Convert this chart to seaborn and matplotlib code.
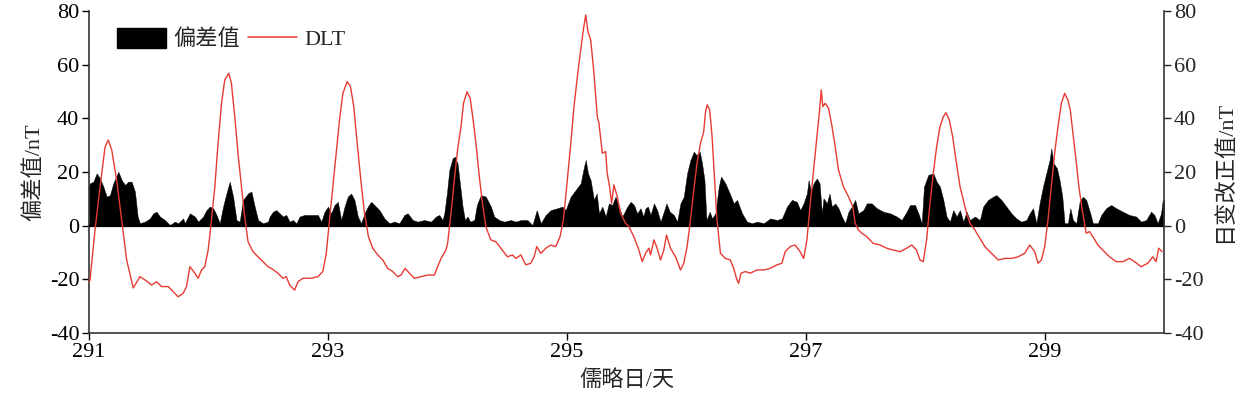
import matplotlib
matplotlib.use("Agg")
import matplotlib.pyplot as plt
import seaborn as sns
import pandas as pd
from matplotlib.patches import Patch
from matplotlib.lines import Line2D

# ---------------- data ----------------
dlt_day = [291.000, 291.008, 291.050, 291.092, 291.134, 291.161, 291.190, 291.231, 291.273, 291.315,
           291.370, 291.426, 291.468, 291.524, 291.566, 291.607, 291.663, 291.704, 291.746, 291.788,
           291.816, 291.844, 291.886, 291.913, 291.942, 291.969, 291.997, 292.019, 292.053, 292.080,
           292.109, 292.136, 292.170, 292.192, 292.220, 292.247, 292.276, 292.303, 292.331, 292.373,
           292.414, 292.456, 292.498,
           292.526, 292.581, 292.623, 292.651, 292.679, 292.721, 292.749, 292.790, 292.860, 292.916,
           292.957, 292.986, 293.013, 293.041, 293.069, 293.097, 293.125, 293.161, 293.189, 293.216,
           293.245, 293.278, 293.306, 293.339, 293.375, 293.417, 293.459, 293.500, 293.542, 293.584,
           293.612, 293.646, 293.682, 293.723, 293.779, 293.835, 293.891, 293.918, 293.947, 293.988,
           294.002, 294.030, 294.058, 294.085, 294.114, 294.135, 294.164, 294.191, 294.219, 294.239,
           294.267, 294.294, 294.322, 294.364, 294.406, 294.448, 294.503, 294.545, 294.573, 294.615,
           294.656, 294.698, 294.726, 294.748, 294.782, 294.824, 294.865, 294.907, 294.943, 294.971,
           295.004, 295.033, 295.060, 295.088, 295.116, 295.138, 295.158, 295.177, 295.200, 295.227,
           295.255, 295.269, 295.297, 295.325, 295.338, 295.358, 295.375, 295.394, 295.422, 295.450,
           295.492,
           295.520, 295.561, 295.603, 295.631, 295.659, 295.687, 295.701, 295.729, 295.756, 295.784,
           295.812, 295.834, 295.868, 295.910, 295.952, 295.979, 296.007, 296.035, 296.063, 296.090,
           296.119, 296.146, 296.160, 296.174, 296.196, 296.216, 296.236, 296.257, 296.286, 296.327,
           296.369, 296.397, 296.424, 296.438, 296.458, 296.494, 296.536, 296.591, 296.647, 296.703,
           296.758, 296.800, 296.828, 296.870, 296.911, 296.953, 296.983,
           297.010, 297.038, 297.066, 297.093, 297.116, 297.130, 297.143, 297.163, 297.191, 297.218,
           297.247, 297.274, 297.316, 297.358, 297.394, 297.414, 297.441, 297.469, 297.511, 297.566,
           297.622, 297.678, 297.734, 297.790, 297.845, 297.887, 297.928, 297.957, 297.984, 298.012,
           298.040, 298.068, 298.096, 298.124, 298.152, 298.174, 298.202, 298.230, 298.258, 298.292,
           298.319, 298.347, 298.375, 298.416, 298.458, 298.500,
           298.527, 298.569, 298.611, 298.667, 298.722, 298.778, 298.834, 298.875, 298.917, 298.945,
           298.973, 299.001, 299.028, 299.056, 299.084, 299.112, 299.140, 299.168, 299.195, 299.215,
           299.237, 299.260, 299.287, 299.315, 299.348, 299.376, 299.404, 299.446, 299.487, 299.543,
           299.599, 299.655, 299.710, 299.752, 299.808, 299.864, 299.905, 299.933, 299.955, 299.983]
dlt_val = [-21.0, -20.3, -1.6, 14.4, 29.3, 31.9, 28.2, 17.0, 2.1, -12.8,
           -23.2, -19.0, -20.2, -22.1, -20.9, -22.7, -22.7, -24.6, -26.5, -25.2,
           -22.7, -15.3, -17.7, -19.6, -16.5, -15.3, -9.1, -0.4, 14.5, 30.7,
           45.6, 54.3, 56.8, 53.0, 40.6, 27.0, 14.5, 3.4, -6.0, -9.7,
           -11.6, -13.4, -15.3,
           -15.9, -17.7, -19.6, -19.0, -22.1, -24.0, -20.9, -19.6, -19.6, -19.0,
           -17.1, -10.3, 2.1, 14.5, 27.0, 39.4, 49.3, 53.7, 51.8, 44.4,
           30.7, 15.8, 4.6, -4.1, -8.4, -10.9, -12.8, -15.9, -17.1, -19.0,
           -18.4, -15.9, -17.7, -19.6, -19.0, -18.4, -18.4, -15.3, -12.2, -9.1,
           -6.6, 4.6, 17.0, 28.2, 36.9, 45.6, 49.9, 47.5, 38.2, 30.7,
           18.3, 8.3, -0.4, -5.3, -6.0, -8.4, -11.6, -10.9, -12.2, -10.9,
           -14.6, -14.0, -11.6, -7.8, -10.3, -8.4, -7.2, -7.8, -4.1, 2.1,
           17.0, 30.7, 44.4, 55.5, 65.5, 72.9, 78.5, 72.3, 69.2, 56.8,
           40.6, 38.2, 27.0, 27.6, 19.5, 14.5, 8.3, 15.2, 10.8, 4.6,
           0.9,
           -0.4, -4.1, -9.1, -13.4, -10.3, -8.4, -10.9, -5.3, -8.4, -12.8,
           -9.1, -3.5, -8.4, -11.6, -16.5, -14.0, -7.8, 2.1, 13.3, 23.3,
           30.7, 35.0, 41.9, 45.0, 43.1, 33.2, 18.3, 2.1, -10.3, -12.2,
           -12.8, -15.9, -20.2, -21.5, -17.7, -17.1, -17.7, -16.5, -16.5, -15.9,
           -14.6, -14.0, -9.7, -7.8, -7.2, -9.7, -12.2,
           -5.3, 8.3, 20.8, 33.2, 43.1, 50.6, 44.4, 45.6, 43.8, 37.5,
           29.4, 20.8, 14.5, 10.8, 7.1, 0.9, -1.6, -2.8, -4.1, -6.6,
           -7.2, -8.4, -9.1, -9.7, -8.4, -7.2, -9.1, -12.8, -13.4, -5.3,
           8.3, 19.5, 29.4, 36.9, 40.6, 42.1, 39.4, 33.2, 24.5, 14.5,
           9.6, 4.6, 0.9, -1.6, -4.7, -7.8,
           -9.1, -10.9, -12.8, -12.2, -12.2, -11.6, -10.3, -7.2, -9.7, -14.0,
           -12.8, -7.8, 2.1, 14.5, 27.0, 36.9, 45.6, 49.3, 46.8, 43.1,
           34.4, 25.7, 14.5, 5.9, -2.8, -2.2, -4.1, -7.2, -9.1, -11.6,
           -13.4, -13.4, -12.2, -13.4, -15.3, -14.0, -11.6, -13.4, -8.4, -9.7]

dev_day = [291.000, 291.008, 291.036, 291.064, 291.092, 291.120, 291.148, 291.175, 291.203, 291.245,
           291.273, 291.301, 291.329, 291.356, 291.384, 291.407, 291.426, 291.468, 291.510, 291.537,
           291.565, 291.593, 291.635, 291.677, 291.718, 291.746, 291.788, 291.802, 291.844, 291.886,
           291.913, 291.955, 291.983, 292.011, 292.039, 292.067, 292.094, 292.122, 292.150, 292.178,
           292.206, 292.234, 292.261, 292.289, 292.331, 292.359, 292.387, 292.415, 292.456,
           292.498, 292.512, 292.540, 292.568, 292.596, 292.624, 292.651, 292.679, 292.707, 292.735,
           292.763, 292.804, 292.860, 292.916, 292.944, 292.972, 293.000, 293.027, 293.055, 293.083,
           293.111, 293.139, 293.166, 293.194, 293.222, 293.250, 293.278, 293.306, 293.334, 293.361,
           293.389, 293.431, 293.473, 293.515, 293.556, 293.598, 293.640, 293.668, 293.710, 293.751,
           293.807, 293.863, 293.904, 293.932, 293.960,
           293.974, 293.996, 294.016, 294.044, 294.063, 294.085, 294.108, 294.127, 294.147, 294.169,
           294.191, 294.225, 294.247, 294.280, 294.322, 294.364, 294.392, 294.434, 294.475, 294.531,
           294.573, 294.615, 294.670, 294.712, 294.748, 294.782, 294.823, 294.865, 294.921, 294.963,
           294.990, 295.032, 295.074, 295.116, 295.144, 295.158, 295.177, 295.199, 295.227, 295.250,
           295.269, 295.297, 295.325, 295.352, 295.380, 295.408, 295.436, 295.464,
           295.478, 295.506, 295.534, 295.562, 295.589, 295.617, 295.640, 295.659, 295.679, 295.701,
           295.729, 295.756, 295.784, 295.812, 295.834, 295.862, 295.896, 295.924, 295.951, 295.979,
           296.007, 296.035, 296.063, 296.085, 296.113, 296.132, 296.152, 296.169, 296.196, 296.216,
           296.244, 296.272, 296.291, 296.327, 296.364, 296.397, 296.425, 296.467, 296.508, 296.550,
           296.592, 296.648, 296.703, 296.759, 296.801, 296.843, 296.884, 296.926, 296.954,
           296.982, 297.010, 297.024, 297.043, 297.066, 297.093, 297.116, 297.135, 297.149, 297.177,
           297.199, 297.219, 297.247, 297.274, 297.302, 297.330, 297.358, 297.386, 297.414, 297.441,
           297.483, 297.511, 297.553, 297.595, 297.650, 297.706, 297.762, 297.803, 297.845, 297.873,
           297.915, 297.943, 297.971, 297.990, 298.026, 298.068, 298.096, 298.124, 298.152, 298.179,
           298.207, 298.235, 298.263, 298.291, 298.319, 298.347, 298.374, 298.416, 298.458,
           298.485, 298.527, 298.569, 298.596, 298.638, 298.680, 298.722, 298.763, 298.805, 298.847,
           298.875, 298.903, 298.931, 298.958, 298.986, 299.014, 299.042, 299.056, 299.075, 299.103,
           299.125, 299.148, 299.167, 299.195, 299.215, 299.237, 299.265, 299.293, 299.320, 299.348,
           299.382, 299.404, 299.446, 299.474, 299.515, 299.557, 299.599, 299.655, 299.710, 299.766,
           299.808, 299.850, 299.891, 299.919, 299.947, 299.975, 299.989, 300.000]
dev_val = [15.0, 15.8, 16.4, 19.5, 17.6, 14.5, 10.8, 11.4, 15.8, 20.1,
           17.0, 15.2, 16.4, 16.4, 12.7, 3.4, 0.9, 1.5, 2.7, 4.6,
           5.2, 3.4, 2.1, 0.2, 1.5, 0.9, 2.7, 0.9, 4.6, 3.4,
           1.5, 3.4, 5.8, 7.1, 6.5, 4.0, 0.9, 7.1, 12.0, 16.4,
           10.8, 2.1, 1.5, 9.6, 12.0, 12.7, 7.1, 2.1, 0.9,
           1.5, 3.4, 5.2, 5.8, 4.6, 3.4, 4.0, 1.5, 2.1, 0.9,
           3.4, 4.0, 4.0, 4.0, 1.5, 5.2, 7.1, 4.6, 7.7, 8.9,
           2.1, 7.1, 10.8, 12.0, 9.6, 3.4, 0.9, 4.6, 7.1, 8.9,
           7.7, 5.8, 2.7, 0.9, 1.5, 0.9, 4.0, 4.6, 2.1, 1.5,
           2.1, 1.5, 3.4, 4.0, 2.1,
           4.6, 12.0, 20.7, 25.1, 25.7, 23.2, 14.5, 7.1, 2.1, 3.4,
           1.5, 2.1, 7.7, 11.4, 10.8, 7.1, 3.4, 2.1, 1.5, 2.1,
           1.5, 2.1, 2.1, 0.2, 5.8, 0.9, 4.0, 5.8, 6.5, 7.1,
           5.8, 10.8, 13.3, 15.8, 22.0, 24.5, 19.5, 17.0, 9.6, 12.0,
           4.6, 7.1, 3.4, 8.3, 7.7, 10.8, 7.1, 3.4,
           4.6, 7.1, 8.9, 7.7, 4.6, 6.5, 3.4, 6.5, 7.1, 4.0,
           8.3, 5.8, 1.5, 5.2, 8.3, 5.2, 4.0, 1.5, 8.3, 10.8,
           19.5, 24.5, 27.6, 26.3, 27.6, 23.2, 17.0, 2.1, 5.2, 2.7,
           4.6, 14.5, 18.3, 15.8, 12.0, 8.3, 9.6, 4.6, 1.5, 0.9,
           1.5, 0.9, 2.7, 2.1, 2.7, 7.1, 9.6, 8.9, 5.8,
           8.3, 12.0, 17.0, 12.7, 15.8, 17.6, 15.8, 4.6, 10.2, 8.3,
           12.0, 7.1, 8.3, 6.5, 3.4, 0.9, 5.2, 7.1, 9.6, 4.6,
           5.8, 8.3, 8.3, 6.5, 5.2, 4.6, 3.4, 2.1, 5.2, 7.7,
           7.7, 4.6, 0.9, 14.5, 18.9, 19.5, 16.4, 14.5, 9.6, 3.4,
           1.5, 5.8, 3.4, 5.8, 1.5, 5.2, 2.1, 3.4, 2.1,
           7.1, 9.6, 10.8, 11.4, 9.6, 7.1, 4.6, 2.7, 1.5, 2.1,
           4.6, 6.5, 0.9, 8.3, 14.5, 19.5, 24.5, 28.8, 23.2, 21.4,
           17.0, 10.8, 0.9, 0.9, 6.5, 2.1, 0.9, 8.9, 10.8, 9.6,
           4.6, 0.9, 0.9, 4.0, 6.5, 7.7, 6.5, 5.2, 4.0, 3.4,
           1.5, 2.1, 5.2, 4.0, 0.9, 4.6, 9.6, 9.6]

x_ticks = [291, 293, 295, 297, 299]
y_ticks = [-40, -20, 0, 20, 40, 60, 80]
left_label = "偏差值/nT"
right_label = "日变改正值/nT"
x_label = "儒略日/天"
legend_labels = ["偏差值", "DLT"]

# ---------------- style ----------------
sns.set_style("ticks")
plt.rcParams["font.family"] = ["Liberation Serif", "Noto Sans CJK SC"]
plt.rcParams["axes.unicode_minus"] = False

red = "#e63b33"
fs = 16

fig = plt.figure(figsize=(12.56, 3.98), dpi=100)
ax = fig.add_axes([0.0709, 0.1633, 0.8559, 0.8091])

df_dev = pd.DataFrame({"day": dev_day, "val": dev_val})
df_dlt = pd.DataFrame({"day": dlt_day, "val": dlt_val})

ax.fill_between(df_dev["day"], 0, df_dev["val"], color="black", lw=0.3, zorder=2)
ax.axhline(0, color="black", lw=1.6, zorder=3)
sns.lineplot(data=df_dlt, x="day", y="val", ax=ax, color=red, lw=1.0, zorder=4,
             estimator=None, sort=False)

ax.set_xlim(291, 300)
ax.set_ylim(-40, 80)
ax.set_xticks(x_ticks)
ax.set_yticks(y_ticks)
ax.set_xlabel(x_label, fontsize=fs, labelpad=6)
ax.set_ylabel(left_label, fontsize=fs, labelpad=4)
ax.tick_params(axis="both", labelsize=fs, direction="out", length=5, width=1, colors="black",
               pad=2)
for s in ["left", "bottom"]:
    ax.spines[s].set_color("#333333")
    ax.spines[s].set_linewidth(1.2)
ax.spines["top"].set_visible(False)
ax.spines["right"].set_visible(False)

ax2 = ax.twinx()
ax2.set_ylim(-40, 80)
ax2.set_yticks(y_ticks)
ax2.set_ylabel(right_label, fontsize=fs, labelpad=8)
ax2.tick_params(axis="y", labelsize=fs, direction="out", length=5, width=1, pad=2)
ax2.spines["top"].set_visible(False)
ax2.spines["left"].set_visible(False)
ax2.spines["bottom"].set_visible(False)
ax2.spines["right"].set_color("#333333")
ax2.spines["right"].set_linewidth(1.2)

handles = [Patch(facecolor="black", edgecolor="black"),
           Line2D([], [], color=red, lw=1.1)]
ax.legend(handles, legend_labels, loc="upper left", bbox_to_anchor=(0.026, 0.948),
          ncol=2, frameon=False, fontsize=fs, handlelength=2.2, handleheight=1.0,
          handletextpad=0.35, columnspacing=0.35, borderaxespad=0, borderpad=0)

fig.savefig("out.png", dpi=100)
